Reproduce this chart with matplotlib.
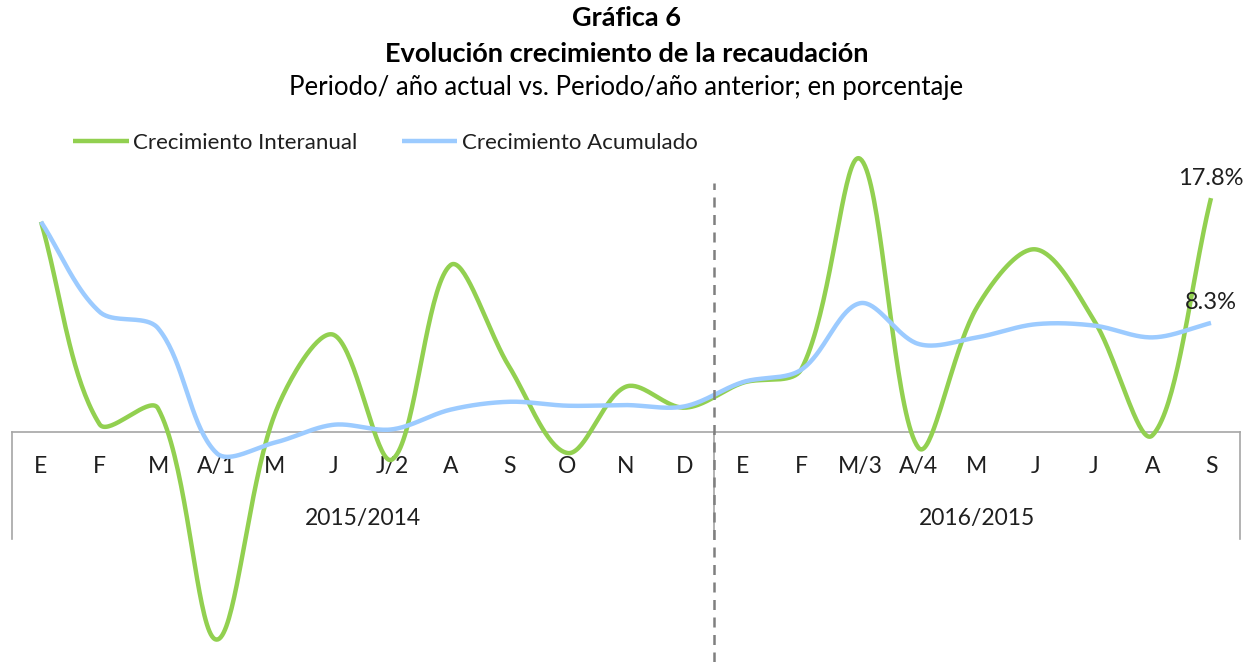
import numpy as np
import matplotlib
matplotlib.use("Agg")
import matplotlib.pyplot as plt

plt.rcParams["font.family"] = ["Lato", "DejaVu Sans"]

# --- data -------------------------------------------------------------
months = ["E", "F", "M", "A/1", "M", "J", "J/2", "A", "S", "O", "N", "D",
          "E", "F", "M/3", "A/4", "M", "J", "J", "A", "S"]
groups = ["2015/2014", "2016/2015"]
group_sizes = [12, 9]

interanual = [16.0, 0.6, 1.8, -15.8, 1.4, 7.4, -2.1, 12.7, 5.0, -1.6, 3.45, 1.85,
              3.75, 4.8, 20.8, -1.2, 9.5, 13.9, 8.5, -0.25, 17.8]
acumulado = [16.0, 9.15, 7.9, -1.6, -0.8, 0.55, 0.2, 1.7, 2.3, 2.0, 2.05, 1.95,
             3.8, 4.75, 9.8, 6.7, 7.2, 8.2, 8.1, 7.2, 8.3]

GREEN = "#92D050"
BLUE = "#9CCBFF"
GREY = "#A6A6A6"
TEXT = "#1F1F1F"

W, H = 1253, 662
px_per_unit = 13.14          # vertical pixels per percentage point
zero_px = 432                # pixel row of the zero line
left_px, right_px = 11.75, 1240.25
px_per_cat = (right_px - left_px) / len(months)


def smooth(xs, ys, n=40):
    """Excel-like smoothed line: cubic Bezier, tangents split by chord length."""
    p = np.column_stack([np.asarray(xs, float) * px_per_cat,
                         np.asarray(ys, float) * px_per_unit])
    m = len(p)
    cin, cout = p.copy(), p.copy()
    for i in range(m):
        a = p[max(i - 1, 0)]
        b = p[min(i + 1, m - 1)]
        d0 = np.linalg.norm(p[i] - a)
        d1 = np.linalg.norm(b - p[i])
        if d0 + d1 == 0:
            continue
        tan = (b - a) / 3
        cout[i] = p[i] + tan * d1 / (d0 + d1)
        cin[i] = p[i] - tan * d0 / (d0 + d1)
    t = np.linspace(0, 1, n)[:, None]
    out = []
    for i in range(m - 1):
        seg = ((1 - t) ** 3) * p[i] + 3 * ((1 - t) ** 2) * t * cout[i] \
            + 3 * (1 - t) * t ** 2 * cin[i + 1] + t ** 3 * p[i + 1]
        out.append(seg if i == 0 else seg[1:])
    out = np.vstack(out)
    return out[:, 0] / px_per_cat, out[:, 1] / px_per_unit


fig = plt.figure(figsize=(W / 100, H / 100), dpi=100)
ax = fig.add_axes([left_px / W, 0, (right_px - left_px) / W, 1])
ax.set_xlim(-0.5, len(months) - 0.5)
ax.set_ylim(-(H - zero_px) / px_per_unit, zero_px / px_per_unit)

x = np.arange(len(months))
sx, sy = smooth(x, interanual)
ax.plot(sx, sy, color=GREEN, lw=3.2, solid_capstyle="butt",
        label="Crecimiento Interanual", zorder=3)
sx, sy = smooth(x, acumulado)
ax.plot(sx, sy, color=BLUE, lw=3.2, solid_capstyle="butt",
        label="Crecimiento Acumulado", zorder=4)

# value labels on the last point
for series in (interanual, acumulado):
    ax.annotate(f"{series[-1]:.1f}%", xy=(x[-1], series[-1]),
                xytext=(0, 20), textcoords="offset pixels",
                ha="center", va="center", fontsize=17, color=TEXT)

# axis at zero with category labels
for s in ("top", "right", "left"):
    ax.spines[s].set_visible(False)
ax.spines["bottom"].set_position(("data", 0))
ax.spines["bottom"].set_color(GREY)
ax.spines["bottom"].set_linewidth(1.2)
ax.set_yticks([])
ax.set_xticks(x, months)
ax.tick_params(axis="x", length=0, pad=17, labelsize=16.5, labelcolor=TEXT)

# group frame and labels
frame_bottom = -107 / px_per_unit
edges = np.concatenate([[0], np.cumsum(group_sizes)]) - 0.5
for e in edges:
    ax.plot([e, e], [0, frame_bottom], color=GREY, lw=1.2, clip_on=False)
for g, a, b in zip(groups, edges[:-1], edges[1:]):
    ax.annotate(g, xy=((a + b) / 2, 0), xytext=(0, -87),
                textcoords="offset pixels", ha="center", va="center",
                fontsize=16.5, color=TEXT)

# dashed separator between years
sep = edges[1]
ax.plot([sep, sep], [ax.get_ylim()[0], (zero_px - 183) / px_per_unit],
        color="#7F7F7F", lw=1.8, ls=(0, (4, 3)), clip_on=False, zorder=5)

ax.legend(loc="center left", bbox_to_anchor=(73 / W, 1 - 143 / H),
          bbox_transform=fig.transFigure, ncol=2, frameon=False,
          fontsize=16, handlelength=2.5, handletextpad=0.2,
          columnspacing=2.0, borderaxespad=0, borderpad=0, labelcolor=TEXT)

fig.text(0.5, 1 - 18 / H, "Gráfica 6", ha="center", va="center",
         fontsize=19.5, fontweight="bold")
fig.text(0.5, 1 - 54 / H, "Evolución crecimiento de la recaudación",
         ha="center", va="center", fontsize=19.5, fontweight="bold")
fig.text(0.5, 1 - 88 / H,
         "Periodo/ año actual vs. Periodo/año anterior; en porcentaje",
         ha="center", va="center", fontsize=18.5)

fig.savefig("out.png", dpi=100)
